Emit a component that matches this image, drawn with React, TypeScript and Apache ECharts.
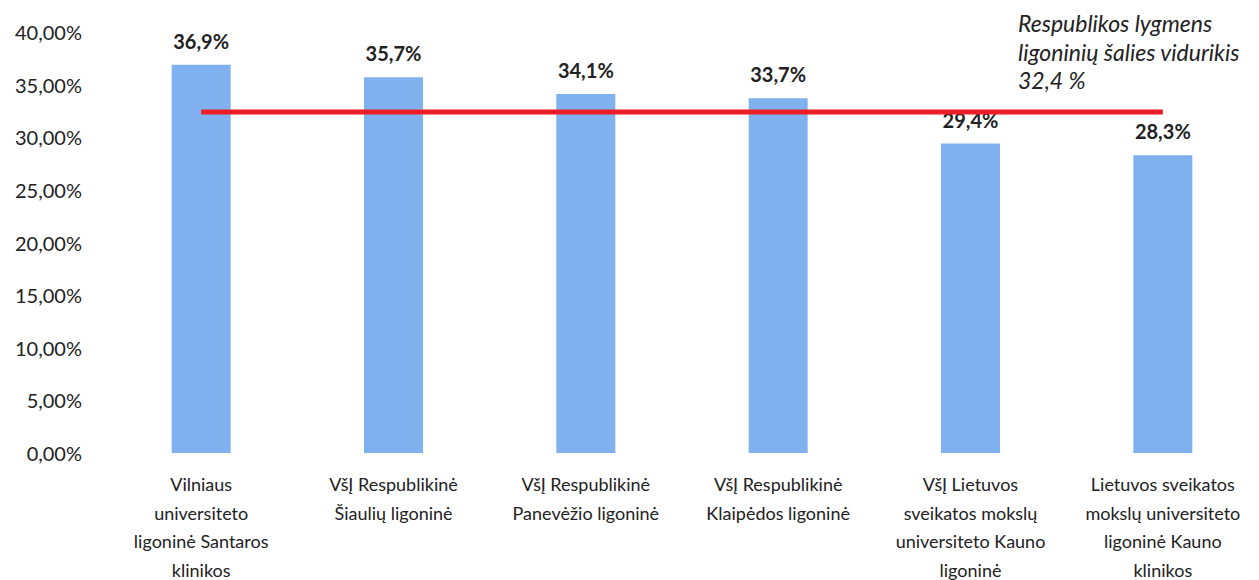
import React, { useEffect, useRef } from "react";
import * as echarts from "echarts";

const categories = [
  "Vilniaus\nuniversiteto\nligoninė Santaros\nklinikos",
  "VšĮ Respublikinė\nŠiaulių ligoninė",
  "VšĮ Respublikinė\nPanevėžio ligoninė",
  "VšĮ Respublikinė\nKlaipėdos ligoninė",
  "VšĮ Lietuvos\nsveikatos mokslų\nuniversiteto Kauno\nligoninė",
  "Lietuvos sveikatos\nmokslų universiteto\nligoninė Kauno\nklinikos",
];
const values = [36.9, 35.7, 34.1, 33.7, 29.4, 28.3];
const averageValue = 32.4;
const averageLine = categories.map(() => averageValue);
const annotationLines = ["Respublikos lygmens", "ligoninių šalies vidurikis", "32,4 %"];

const FONT = "Lato, 'Open Sans', sans-serif";

export default function App() {
  const ref = useRef<HTMLDivElement>(null);
  useEffect(() => {
    if (!ref.current) return;
    const chart = echarts.init(ref.current, undefined, { renderer: "svg" });
    chart.setOption({
      animation: false,
      backgroundColor: "#ffffff",
      textStyle: { fontFamily: FONT },
      grid: {
        left: 105,
        right: 0,
        top: 32,
        bottom: 127,
        containLabel: false,
        outerBoundsMode: "none",
      },
      xAxis: {
        type: "category",
        data: categories,
        axisLine: { show: false },
        axisTick: { show: false },
        axisLabel: {
          color: "#222",
          fontSize: 18,
          lineHeight: 28.5,
          margin: 17,
          interval: 0,
          fontFamily: FONT,
        },
      },
      yAxis: {
        type: "value",
        min: 0,
        max: 40,
        interval: 5,
        splitLine: { show: false },
        axisLine: { show: false },
        axisTick: { show: false },
        axisLabel: {
          color: "#222",
          fontSize: 20,
          margin: 23,
          fontFamily: FONT,
          formatter: (v: number) => v.toFixed(2).replace(".", ",") + "%",
        },
      },
      series: [
        {
          type: "bar",
          data: values,
          barWidth: 59,
          itemStyle: { color: "#7eb1ee" },
          label: {
            show: true,
            position: "top",
            distance: 14,
            color: "#222",
            fontWeight: "bold",
            fontSize: 20,
            fontFamily: FONT,
            formatter: (p: any) => p.value.toFixed(1).replace(".", ",") + "%",
          },
          z: 2,
        },
        {
          type: "line",
          data: averageLine,
          symbol: "none",
          lineStyle: { color: "#ee1c25", width: 5 },
          z: 3,
        },
      ],
      graphic: [
        {
          type: "text",
          left: 1018,
          top: 9,
          style: {
            text: annotationLines.join("\n"),
            font: `italic 23px ${FONT}`,
            lineHeight: 28.5,
            fill: "#222",
          },
        },
      ],
    });
    return () => chart.dispose();
  }, []);
  return (
    <div
      ref={ref}
      style={{ position: "fixed", left: 0, top: 0, width: 1259, height: 580 }}
    />
  );
}
